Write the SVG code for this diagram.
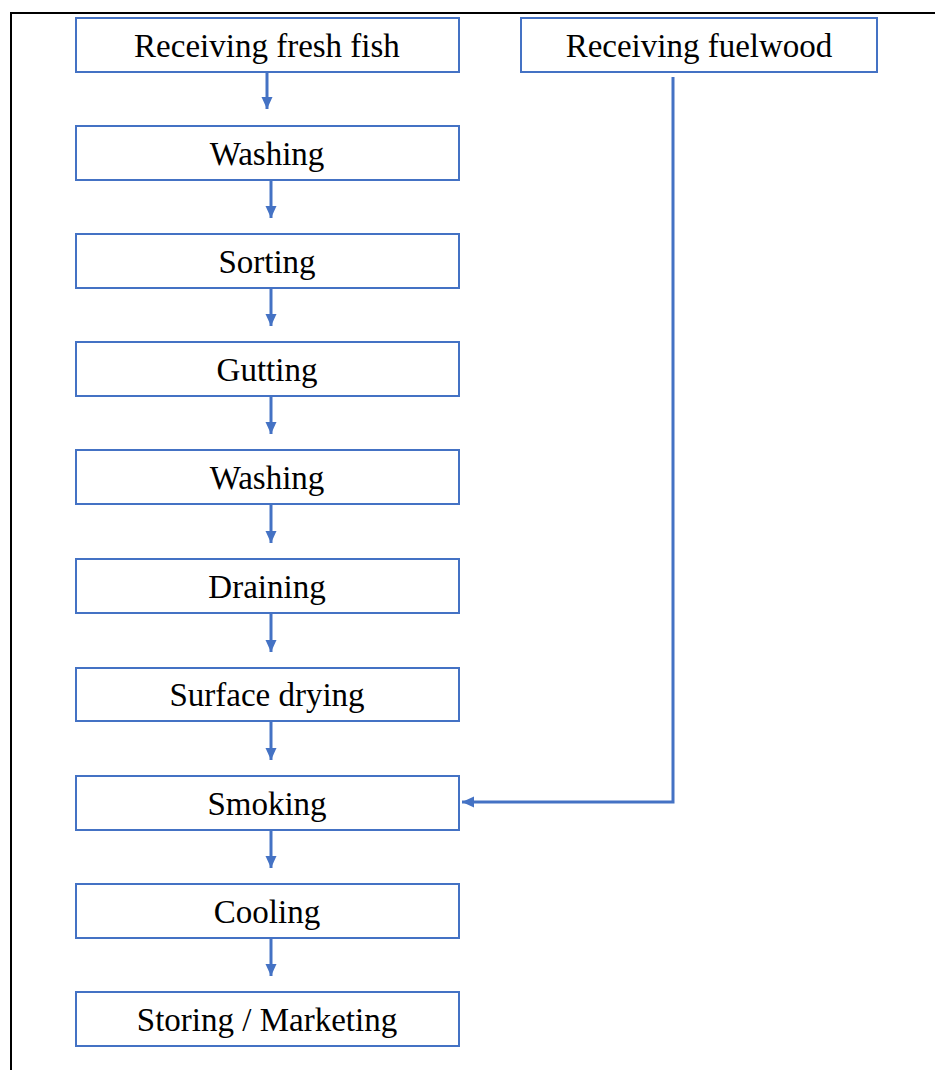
<svg xmlns="http://www.w3.org/2000/svg" width="935" height="1070" viewBox="0 0 935 1070">
<style>
.box{fill:#fff;stroke:#4472C4;stroke-width:2}
.lbl{font-family:"Liberation Serif","Times New Roman",serif;font-size:33px;fill:#000;text-anchor:middle}
.con{stroke:#4472C4;stroke-width:3;fill:none}
</style>
<defs>
<marker id="ah" markerWidth="13" markerHeight="13" refX="12" refY="6.5" orient="auto" markerUnits="userSpaceOnUse">
<path d="M0,1 L12,6.5 L0,12 Z" fill="#4472C4"/>
</marker>
</defs>
<rect width="935" height="1070" fill="#fff"/>
<path d="M11,1070 V13 H935" stroke="#000" stroke-width="2" fill="none"/>
<g id="connectors">
<line class="con" x1="267" y1="72" x2="267" y2="109" marker-end="url(#ah)"/>
<line class="con" x1="271" y1="180" x2="271" y2="218" marker-end="url(#ah)"/>
<line class="con" x1="271" y1="288" x2="271" y2="326" marker-end="url(#ah)"/>
<line class="con" x1="271" y1="396" x2="271" y2="434" marker-end="url(#ah)"/>
<line class="con" x1="271" y1="504" x2="271" y2="543" marker-end="url(#ah)"/>
<line class="con" x1="271" y1="613" x2="271" y2="652" marker-end="url(#ah)"/>
<line class="con" x1="271" y1="721" x2="271" y2="760" marker-end="url(#ah)"/>
<line class="con" x1="271" y1="830" x2="271" y2="868" marker-end="url(#ah)"/>
<line class="con" x1="271" y1="938" x2="271" y2="976" marker-end="url(#ah)"/>
<path class="con" d="M673,77 V802 H462" marker-end="url(#ah)"/>
</g>
<g id="n1"><rect class="box" x="76" y="18" width="383" height="54"/><text class="lbl" x="267" y="57">Receiving fresh fish</text></g>
<g id="n2"><rect class="box" x="521" y="18" width="356" height="54"/><text class="lbl" x="699" y="57">Receiving fuelwood</text></g>
<g id="n3"><rect class="box" x="76" y="126" width="383" height="54"/><text class="lbl" x="267" y="165">Washing</text></g>
<g id="n4"><rect class="box" x="76" y="234" width="383" height="54"/><text class="lbl" x="267" y="273">Sorting</text></g>
<g id="n5"><rect class="box" x="76" y="342" width="383" height="54"/><text class="lbl" x="267" y="381">Gutting</text></g>
<g id="n6"><rect class="box" x="76" y="450" width="383" height="54"/><text class="lbl" x="267" y="489">Washing</text></g>
<g id="n7"><rect class="box" x="76" y="559" width="383" height="54"/><text class="lbl" x="267" y="598">Draining</text></g>
<g id="n8"><rect class="box" x="76" y="668" width="383" height="53"/><text class="lbl" x="267" y="706">Surface drying</text></g>
<g id="n9"><rect class="box" x="76" y="776" width="383" height="54"/><text class="lbl" x="267" y="815">Smoking</text></g>
<g id="n10"><rect class="box" x="76" y="884" width="383" height="54"/><text class="lbl" x="267" y="923">Cooling</text></g>
<g id="n11"><rect class="box" x="76" y="992" width="383" height="54"/><text class="lbl" x="267" y="1031">Storing / Marketing</text></g>
</svg>
